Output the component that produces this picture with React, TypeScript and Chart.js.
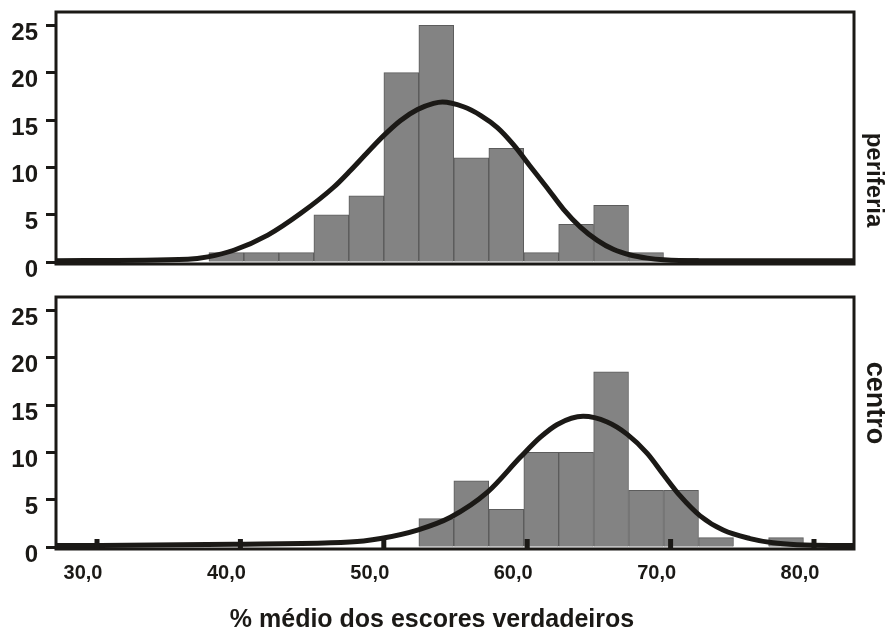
import React, { useEffect, useRef } from "react";
import { Chart, registerables } from "chart.js";

Chart.register(...registerables);

// ---- data ----
const binCentersTop = [39.02, 41.46, 43.9, 46.34, 48.78, 51.22, 53.66, 56.1, 58.54, 60.98, 63.41, 65.85, 68.29, 70.73];
const countsTop = [1, 1, 1, 5, 7, 20, 25, 11, 12, 1, 4, 6, 1, 0.4];

const binCentersBottom = [53.66, 56.1, 58.54, 60.98, 63.41, 65.85, 68.29, 70.73, 73.17, 75.61, 78.05];
const countsBottom = [3, 7, 4, 10, 10, 18.5, 6, 6, 1, 0, 1];

const curveTopX = [27.14, 36.34, 37.73, 39.54, 41.91, 44.21, 46.5, 47.69, 48.87, 49.99, 51.17, 52.35, 53.47, 54.09, 55.56, 56.74, 57.92, 59.04, 60.22, 61.41, 62.52, 63.71, 64.89, 66.0, 67.19, 68.38, 69.5, 71.87, 82.79];
const curveTopY = [0.15, 0.3, 0.55, 1.25, 2.85, 5.15, 7.9, 9.7, 11.6, 13.35, 14.95, 16.1, 16.75, 16.9, 16.4, 15.5, 14.2, 12.4, 10.1, 7.8, 5.6, 3.7, 2.3, 1.35, 0.75, 0.42, 0.25, 0.15, 0.15];

const curveBottomX = [27.14, 30.28, 39.54, 46.3, 48.59, 49.78, 52.35, 54.65, 57.23, 59.53, 60.92, 62.1, 63.9, 65.58, 66.98, 68.37, 69.48, 70.67, 72.06, 73.66, 75.54, 77.14, 78.82, 81.12, 82.72];
const curveBottomY = [0.17, 0.18, 0.3, 0.45, 0.65, 0.9, 1.8, 3.15, 5.8, 9.5, 11.6, 12.95, 13.8, 13.2, 11.9, 9.9, 7.7, 5.4, 3.3, 1.8, 0.9, 0.45, 0.25, 0.17, 0.17];

const xTicks = [30, 40, 50, 60, 70, 80];
const xTickLabels = ["30,0", "40,0", "50,0", "60,0", "70,0", "80,0"];
const yTicks = [0, 5, 10, 15, 20, 25];
const yTickLabels = ["0", "5", "10", "15", "20", "25"];
const panelLabels = ["periferia", "centro"];
const xTitle = "% médio dos escores verdadeiros";

const X_MIN = 27.14;
const X_MAX = 82.79;
const Y_MIN = -0.2;
const Y_MAX = 26.4;

const FONT = "'Liberation Sans', Arial, Helvetica, sans-serif";
const INK = "#1b1916";

type PanelProps = {
  centers: number[];
  counts: number[];
  cx: number[];
  cy: number[];
  label: string;
  labelSize: number;
  isBottom: boolean;
  width: number;
  height: number;
  padTop: number;
  padBottom: number;
  labelY: number;
};

function Panel(p: PanelProps) {
  const ref = useRef<HTMLCanvasElement | null>(null);

  useEffect(() => {
    if (!ref.current) return;
    const bars = p.centers.map((x, i) => ({ x, y: p.counts[i] }));
    const curve = p.cx.map((x, i) => ({ x, y: p.cy[i] }));

    const framePlugin = {
      id: "frame",
      afterDatasetsDraw(chart: any) {
        const { ctx, chartArea } = chart;
        const { left, top, right, bottom } = chartArea;
        ctx.save();
        ctx.strokeStyle = INK;
        ctx.lineWidth = 3;
        ctx.strokeRect(left, top, right - left, bottom - top);
        if (p.isBottom) {
          const xs = chart.scales.x;
          ctx.fillStyle = INK;
          xTicks.forEach((v) => {
            const px = xs.getPixelForValue(v);
            ctx.fillRect(px - 2.5, bottom - 10, 5, 10);
          });
        }
        ctx.restore();
      },
      afterDraw(chart: any) {
        const { ctx, chartArea } = chart;
        ctx.save();
        ctx.fillStyle = INK;
        ctx.font = `bold ${p.labelSize}px ${FONT}`;
        ctx.textAlign = "center";
        ctx.textBaseline = "alphabetic";
        ctx.translate(chartArea.right + 13, chartArea.top + p.labelY);
        ctx.rotate(Math.PI / 2);
        ctx.fillText(p.label, 0, 0);
        ctx.restore();
      },
    };

    const chart = new Chart(ref.current, {
      type: "bar",
      data: {
        datasets: [
          {
            type: "line",
            data: curve,
            borderColor: INK,
            borderWidth: 5,
            pointRadius: 0,
            cubicInterpolationMode: "monotone",
            fill: false,
            order: 0,
            clip: 8,
          } as any,
          {
            type: "bar",
            data: bars,
            backgroundColor: "#838383",
            borderColor: "#5c5c5c",
            borderWidth: 1,
            barPercentage: 1,
            categoryPercentage: 1,
            order: 1,
          } as any,
        ],
      },
      options: {
        responsive: false,
        animation: false,
        layout: { padding: { top: p.padTop, right: 31, bottom: p.padBottom, left: 0 } },
        plugins: { legend: { display: false }, tooltip: { enabled: false } },
        scales: {
          x: {
            type: "linear",
            min: X_MIN,
            max: X_MAX,
            offset: false,
            display: p.isBottom,
            grid: { display: false, drawTicks: false },
            border: { display: false },
            afterBuildTicks: (s: any) => {
              s.ticks = xTicks.map((v) => ({ value: v }));
            },
            ticks: {
              callback: (v: any) => xTickLabels[xTicks.indexOf(Number(v))],
              font: { family: FONT, size: 20, weight: "bold" },
              color: INK,
              padding: 12,
              labelOffset: -14,
              maxRotation: 0,
              autoSkip: false,
            },
            afterFit: (s: any) => {
              s.height = p.isBottom ? 80 : 0;
              s.paddingLeft = 0;
              s.paddingRight = 0;
            },
          },
          y: {
            min: Y_MIN,
            max: Y_MAX,
            afterBuildTicks: (s: any) => {
              s.ticks = yTicks.map((v) => ({ value: v }));
            },
            grid: {
              drawOnChartArea: false,
              drawTicks: true,
              tickLength: 10,
              tickWidth: 3,
              tickColor: INK,
            },
            border: { display: false },
            ticks: {
              callback: (v: any) => yTickLabels[yTicks.indexOf(Number(v))],
              font: { family: FONT, size: 24, weight: "bold" },
              color: INK,
              padding: 8,
              labelOffset: 8,
              autoSkip: false,
            },
            afterFit: (s: any) => {
              s.width = 56;
              s.paddingTop = 0;
              s.paddingBottom = 0;
            },
          },
        },
      } as any,
      plugins: [framePlugin],
    });
    return () => chart.destroy();
  }, []);

  return <canvas ref={ref} width={p.width} height={p.height} style={{ display: "block" }} />;
}

export default function App() {
  return (
    <div
      style={{
        position: "absolute",
        left: 0,
        top: 0,
        width: 885,
        height: 629,
        overflow: "hidden",
        background: "#ffffff",
      }}
    >
      <div style={{ position: "absolute", left: 0, top: 0 }}>
        <Panel
          centers={binCentersTop}
          counts={countsTop}
          cx={curveTopX}
          cy={curveTopY}
          label={panelLabels[0]}
          labelSize={24}
          isBottom={false}
          width={885}
          height={280}
          padTop={12}
          padBottom={16}
          labelY={168}
        />
      </div>
      <div style={{ position: "absolute", left: 0, top: 280 }}>
        <Panel
          centers={binCentersBottom}
          counts={countsBottom}
          cx={curveBottomX}
          cy={curveBottomY}
          label={panelLabels[1]}
          labelSize={27}
          isBottom={true}
          width={885}
          height={349}
          padTop={17}
          padBottom={0}
          labelY={106}
        />
      </div>
      <div
        style={{
          position: "absolute",
          left: 0,
          width: 864,
          top: 606,
          textAlign: "center",
          fontFamily: FONT,
          fontWeight: "bold",
          fontSize: 25,
          lineHeight: "25px",
          color: INK,
          whiteSpace: "nowrap",
        }}
      >
        {xTitle}
      </div>
    </div>
  );
}
